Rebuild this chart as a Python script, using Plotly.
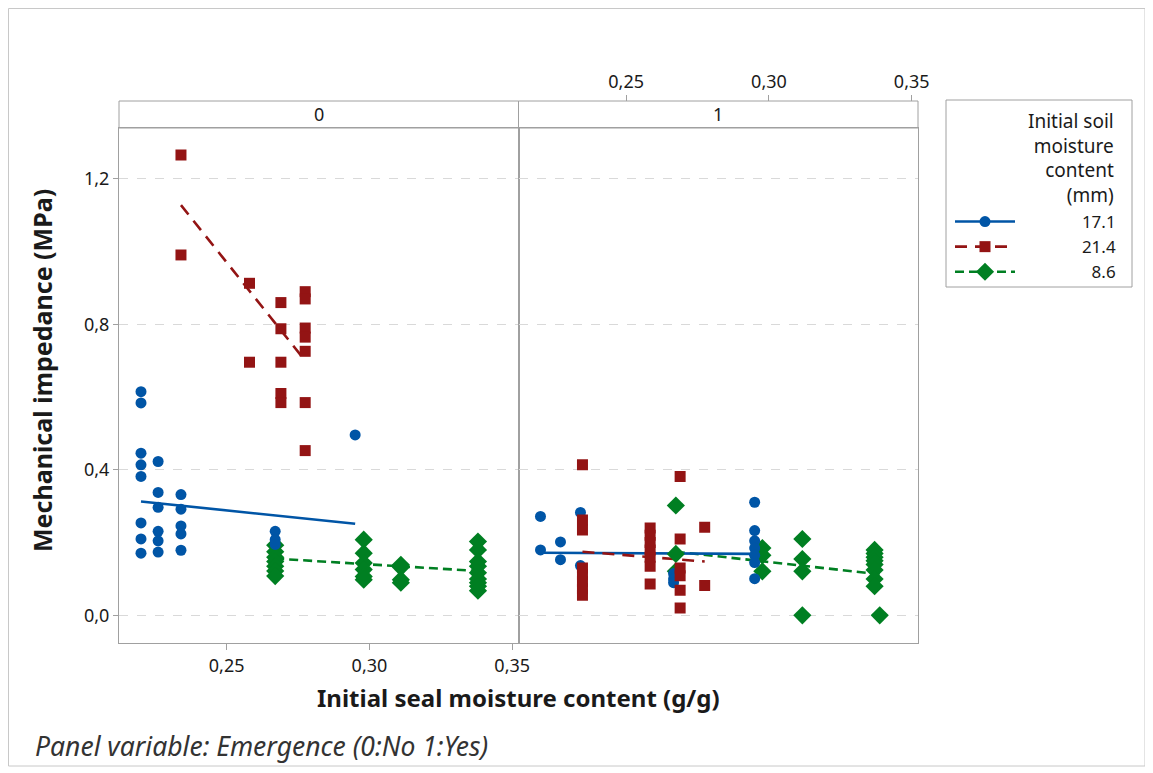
import plotly.graph_objects as go

# ---------------- data ----------------
series_names = ["17.1", "21.4", "8.6"]
panel_labels = ["0", "1"]
x_tickvals = [0.25, 0.30, 0.35]
y_tickvals = [0.0, 0.4, 0.8, 1.2]

# Panel 0 (Emergence = No)
blue0_x = [0.220, 0.220, 0.220, 0.220, 0.220, 0.220, 0.220, 0.220,
           0.226, 0.226, 0.226, 0.226, 0.226, 0.226,
           0.234, 0.234, 0.234, 0.234, 0.234,
           0.267, 0.267, 0.267, 0.295]
blue0_y = [0.615, 0.584, 0.446, 0.414, 0.382, 0.254, 0.210, 0.171,
           0.423, 0.338, 0.297, 0.231, 0.205, 0.174,
           0.332, 0.292, 0.246, 0.224, 0.179,
           0.231, 0.208, 0.195, 0.496]
red0_x = [0.234, 0.234, 0.258, 0.258,
          0.269, 0.269, 0.269, 0.269, 0.269,
          0.2775, 0.2775, 0.2775, 0.2775, 0.2775, 0.2775, 0.2775]
red0_y = [1.266, 0.991, 0.913, 0.696,
          0.860, 0.788, 0.696, 0.610, 0.585,
          0.890, 0.870, 0.790, 0.765, 0.726, 0.585, 0.453]
green0_x = [0.267, 0.267, 0.267, 0.267, 0.267, 0.267, 0.267,
            0.298, 0.298, 0.298, 0.298, 0.298, 0.298,
            0.311, 0.311, 0.311, 0.311,
            0.338, 0.338, 0.338, 0.338, 0.338, 0.338, 0.338, 0.338, 0.338]
green0_y = [0.193, 0.175, 0.160, 0.148, 0.135, 0.122, 0.108,
            0.208, 0.171, 0.144, 0.126, 0.107, 0.098,
            0.139, 0.132, 0.098, 0.090,
            0.203, 0.180, 0.148, 0.135, 0.117, 0.100, 0.090, 0.080, 0.068]

# Panel 1 (Emergence = Yes)
blue1_x = [0.220, 0.220, 0.227, 0.227, 0.234, 0.234,
           0.2666, 0.2666, 0.2666,
           0.295, 0.295, 0.295, 0.295, 0.295, 0.295, 0.295]
blue1_y = [0.272, 0.180, 0.202, 0.153, 0.283, 0.137,
           0.115, 0.100, 0.090,
           0.311, 0.233, 0.205, 0.185, 0.165, 0.145, 0.101]
red1_x = [0.2347, 0.2347, 0.2347, 0.2347, 0.2347, 0.2347, 0.2347, 0.2347,
          0.2584, 0.2584, 0.2584, 0.2584, 0.2584, 0.2584, 0.2584,
          0.2689, 0.2689, 0.2689, 0.2689, 0.2689, 0.2689,
          0.2775, 0.2775]
red1_y = [0.414, 0.262, 0.235, 0.130, 0.112, 0.093, 0.073, 0.055,
          0.240, 0.220, 0.200, 0.180, 0.160, 0.135, 0.086,
          0.382, 0.210, 0.130, 0.109, 0.069, 0.020,
          0.242, 0.082]
green1_x = [0.2674, 0.2674, 0.2674,
            0.2977, 0.2977, 0.2977,
            0.3117, 0.3117, 0.3117, 0.3117,
            0.337, 0.337, 0.337, 0.337, 0.337, 0.337, 0.337, 0.337, 0.3388]
green1_y = [0.302, 0.169, 0.121,
            0.185, 0.165, 0.121,
            0.210, 0.155, 0.121, 0.000,
            0.180, 0.170, 0.160, 0.150, 0.140, 0.125, 0.100, 0.080, 0.000]

# fitted regression lines (end points)
fit0_x = {"17.1": [0.220, 0.295], "21.4": [0.234, 0.2775], "8.6": [0.267, 0.338]}
fit0_y = {"17.1": [0.313, 0.252], "21.4": [1.128, 0.700], "8.6": [0.156, 0.122]}
fit1_x = {"17.1": [0.220, 0.295], "21.4": [0.2347, 0.2775], "8.6": [0.2674, 0.3388]}
fit1_y = {"17.1": [0.172, 0.169], "21.4": [0.175, 0.148], "8.6": [0.175, 0.113]}

# ---------------- styles ----------------
FONT = "Segoe UI, Noto Sans, sans-serif"
TXT = "#1a1a1a"
AX = "#a0a0a0"
GRID = "#d9d9d9"
style = {
    "17.1": dict(color="#0055a6", symbol="circle", size=11, dash="solid"),
    "21.4": dict(color="#931414", symbol="square", size=11, dash="12px,8px"),
    "8.6": dict(color="#007f22", symbol="diamond", size=14, dash="9px,5px"),
}

pts = {
    0: {"17.1": (blue0_x, blue0_y), "21.4": (red0_x, red0_y), "8.6": (green0_x, green0_y)},
    1: {"17.1": (blue1_x, blue1_y), "21.4": (red1_x, red1_y), "8.6": (green1_x, green1_y)},
}
fits = {0: (fit0_x, fit0_y), 1: (fit1_x, fit1_y)}

fig = go.Figure()
for p, (xa, ya) in [(0, ("x", "y")), (1, ("x2", "y2"))]:
    for name in ["8.6", "17.1", "21.4"]:
        s = style[name]
        fx, fy = fits[p]
        fig.add_trace(go.Scatter(x=fx[name], y=fy[name], mode="lines", xaxis=xa, yaxis=ya,
                                 line=dict(color=s["color"], width=2.6, dash=s["dash"]),
                                 showlegend=False, hoverinfo="skip"))
    for name in ["8.6", "17.1", "21.4"]:
        s = style[name]
        x, y = pts[p][name]
        fig.add_trace(go.Scatter(x=x, y=y, mode="markers", xaxis=xa, yaxis=ya,
                                 marker=dict(color=s["color"], symbol=s["symbol"], size=s["size"],
                                             line=dict(width=0)),
                                 name=name, showlegend=False))

# legend entries
NB = "\u00a0"
pad = {"17.1": NB * 14, "21.4": NB * 14, "8.6": NB * 14 + "\u2007"}
for name in series_names:
    s = style[name]
    fig.add_trace(go.Scatter(x=[None], y=[None], mode="lines+markers", xaxis="x", yaxis="y",
                             name=pad[name] + name,
                             line=dict(color=s["color"], width=2.6, dash=s["dash"]),
                             marker=dict(color=s["color"], symbol=s["symbol"], size=s["size"])))

# top axis anchor trace (invisible)
fig.add_trace(go.Scatter(x=[None], y=[None], xaxis="x3", yaxis="y2", showlegend=False))

W, H = 1153, 773
L, R, T, B = 111, 243, 93, 138
pw, ph = W - L - R, H - T - B
# convert screenshot (page) pixels to paper coordinates (page has an 8px body offset)
def px(v): return (v - 8 - L) / pw
def py(v): return (H - B - (v - 8)) / ph

ytop = py(128)
xr = [0.2123, 0.3522]
yr = [-0.076, 1.34]

TICKF = dict(family=FONT, size=18, color=TXT)
common_x = dict(range=xr, showgrid=False, zeroline=False, showline=True, mirror=True,
                linecolor=AX, linewidth=1, tickvals=x_tickvals, tickformat=".2f",
                tickfont=TICKF, tickcolor=AX, ticklen=6)
common_y = dict(range=yr, domain=[0, ytop], showgrid=True, gridcolor=GRID, griddash="dash",
                gridwidth=1, zeroline=False, showline=True, mirror=True, linecolor=AX,
                linewidth=1, tickvals=y_tickvals, tickformat=".1f",
                tickfont=TICKF, tickcolor=AX, ticklen=5)

fig.update_layout(
    width=W, height=H, margin=dict(l=L, r=R, t=T, b=B),
    paper_bgcolor="white", plot_bgcolor="white", separators=",.",
    font=dict(family=FONT, color=TXT, size=18),
    xaxis=dict(common_x, domain=[0, 0.5], anchor="y", ticks="outside"),
    xaxis2=dict(common_x, domain=[0.5, 1], anchor="y2", ticks="", showticklabels=False),
    xaxis3=dict(range=xr, overlaying="x2", side="top", anchor="free", position=1.0,
                showgrid=False, zeroline=False, showline=False, tickvals=x_tickvals,
                tickformat=".2f", ticks="outside", ticklen=6, tickcolor=AX, tickfont=TICKF),
    yaxis=dict(common_y, anchor="x", ticks="outside"),
    yaxis2=dict(common_y, anchor="x2", matches="y", ticks="", showticklabels=False),
    showlegend=True,
    legend=dict(x=px(950), y=py(204), xanchor="left", yanchor="top",
                bgcolor="rgba(0,0,0,0)", borderwidth=0, tracegroupgap=0,
                font=dict(family=FONT, size=17, color=TXT), itemwidth=60),
)

shapes = []
# strips
for x0, x1 in [(0, 0.5), (0.5, 1)]:
    shapes.append(dict(type="rect", xref="paper", yref="paper", x0=x0, x1=x1, y0=ytop, y1=1,
                       line=dict(color=AX, width=1), fillcolor="white", layer="below"))
# legend box
shapes.append(dict(type="rect", xref="paper", yref="paper", x0=px(946), x1=px(1132),
                   y0=py(287), y1=py(100), line=dict(color=AX, width=1)))
# outer frame
shapes.append(dict(type="rect", xref="paper", yref="paper", x0=px(8.5), x1=px(1145),
                   y0=py(766), y1=py(8.5), line=dict(color="#c8c8c8", width=1)))
fig.update_layout(shapes=shapes)

ann = []
for lab, xc in zip(panel_labels, [0.25, 0.75]):
    ann.append(dict(text=lab, xref="paper", yref="paper", x=xc, y=(ytop + 1) / 2,
                    xanchor="center", yanchor="middle",
                    showarrow=False, font=dict(family=FONT, size=18, color=TXT)))
ann.append(dict(text="<b>Initial seal moisture content (g/g)</b>", xref="paper", yref="paper",
                x=0.5, y=py(697), xanchor="center", yanchor="middle", showarrow=False,
                font=dict(family=FONT, size=24, color=TXT)))
ann.append(dict(text="<b>Mechanical impedance (MPa)</b>", xref="paper", yref="paper",
                x=px(42), y=py(371), xanchor="center", yanchor="middle", showarrow=False,
                textangle=-90, font=dict(family=FONT, size=25, color=TXT)))
ann.append(dict(text="Initial soil<br>moisture<br>content<br>(mm)", xref="paper", yref="paper",
                x=px(1116), y=py(106), xanchor="right", yanchor="top", align="right",
                showarrow=False, font=dict(family=FONT, size=19, color=TXT)))
ann.append(dict(text="<i>Panel variable: Emergence (0:No 1:Yes)</i>", xref="paper", yref="paper",
                x=px(33), y=py(746), xanchor="left", yanchor="middle", showarrow=False,
                font=dict(family=FONT, size=26.5, color="#333333")))
fig.update_layout(annotations=ann)

fig.write_html("out.html")
